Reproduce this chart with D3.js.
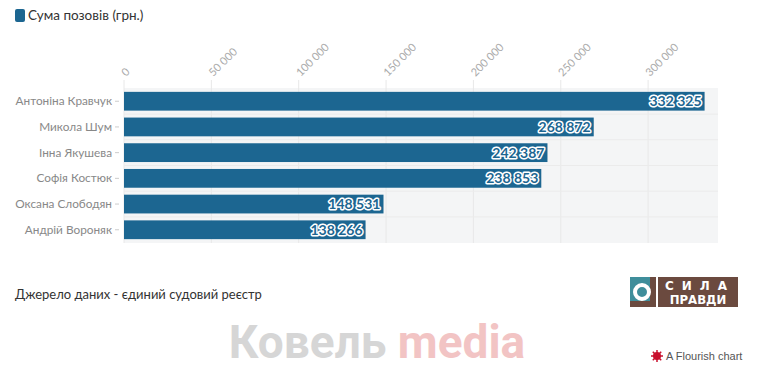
<!DOCTYPE html>
<html>
<head>
<meta charset="utf-8">
<script src="https://cdn.jsdelivr.net/npm/d3@7"></script>
<style>
  body { margin: 0; background: #fff; }
  svg { display: block; font-family: "Lato", "Open Sans", sans-serif; }
</style>
</head>
<body>
<svg id="chart" width="757" height="371"></svg>
<script>
// data
const names = ["Антоніна Кравчук", "Микола Шум", "Інна Якушева", "Софія Костюк", "Оксана Слободян", "Андрій Вороняк"];
const sums = [332325, 268872, 242387, 238853, 148531, 138266];
const tickValues = [0, 50000, 100000, 150000, 200000, 250000, 300000];
const seriesName = "Сума позовів (грн.)";

const svg = d3.select("#chart");
const barColor = "#1c6691";
const fmt = v => d3.format(",")(v).replace(/,/g, " ");

const x = d3.scaleLinear().domain([0, 340000]).range([124, 718]);
const y = d3.scaleBand().domain(names).range([88, 243]).paddingInner(0.27).paddingOuter(0.15);

// legend
svg.append("rect").attr("x", 15).attr("y", 9).attr("width", 10).attr("height", 13)
  .attr("rx", 2).attr("fill", barColor);
svg.append("text").attr("x", 28).attr("y", 20).attr("font-size", 13.5).attr("fill", "#333")
  .text(seriesName);

// plot background
svg.append("rect").attr("x", x(0)).attr("y", 88).attr("width", x.range()[1] - x(0)).attr("height", 155)
  .attr("fill", "#f4f5f6");

// vertical grid
svg.append("g").selectAll("line").data(tickValues).join("line")
  .attr("x1", d => x(d)).attr("x2", d => x(d))
  .attr("y1", 80).attr("y2", 243)
  .attr("stroke", "#e8e8e8").attr("stroke-width", 1);

// row separators
svg.append("g").selectAll("line").data(names.slice(1)).join("line")
  .attr("x1", x(0)).attr("x2", x.range()[1])
  .attr("y1", d => y(d) - y.step() * y.paddingInner() / 2)
  .attr("y2", d => y(d) - y.step() * y.paddingInner() / 2)
  .attr("stroke", "#ebebeb");

// x axis labels rotated
svg.append("g").selectAll("text").data(tickValues).join("text")
  .attr("transform", d => `translate(${x(d) + 2},${77}) rotate(-45)`)
  .attr("font-size", 11).attr("fill", "#aaa")
  .text(fmt);

// y labels
svg.append("g").selectAll("text").data(names).join("text")
  .attr("x", 112).attr("y", d => y(d) + y.bandwidth() / 2 + 4)
  .attr("text-anchor", "end").attr("font-size", 11.8).attr("fill", "#888")
  .text(d => d);
svg.append("g").selectAll("line").data(names).join("line")
  .attr("x1", 115).attr("x2", 119)
  .attr("y1", d => y(d) + y.bandwidth() / 2).attr("y2", d => y(d) + y.bandwidth() / 2)
  .attr("stroke", "#ccc");

// bars
svg.append("g").selectAll("rect").data(names).join("rect")
  .attr("x", x(0)).attr("y", d => y(d))
  .attr("width", (d, i) => x(sums[i]) - x(0)).attr("height", y.bandwidth())
  .attr("fill", barColor);

// value labels
svg.append("g").selectAll("text").data(names).join("text")
  .attr("x", (d, i) => x(sums[i]) - 3).attr("y", d => y(d) + y.bandwidth() / 2 + 5)
  .attr("text-anchor", "end").attr("font-size", 14).attr("font-weight", "bold")
  .attr("fill", barColor).attr("stroke", "#fff").attr("stroke-width", 3)
  .attr("paint-order", "stroke").attr("stroke-linejoin", "round")
  .text((d, i) => fmt(sums[i]));

// source note
svg.append("text").attr("x", 15).attr("y", 299).attr("font-size", 13).attr("fill", "#333")
  .text("Джерело даних - єдиний судовий реєстр");

// logo
const logo = svg.append("g").attr("transform", "translate(630,277)");
logo.append("rect").attr("width", 26).attr("height", 30).attr("fill", "#6b4a3f");
logo.append("rect").attr("width", 20).attr("height", 24).attr("fill", "#3f8e9b");
logo.append("circle").attr("cx", 12).attr("cy", 15).attr("r", 7).attr("fill", "none")
  .attr("stroke", "#fff").attr("stroke-width", 4);
logo.append("rect").attr("x", 28).attr("width", 80).attr("height", 30).attr("fill", "#6b4a3f");
logo.append("text").attr("x", 70).attr("y", 13).attr("text-anchor", "middle")
  .attr("font-family", "DejaVu Sans").attr("font-size", 12).attr("font-weight", "bold")
  .attr("letter-spacing", 8).attr("fill", "#fff").text("СИЛА");
logo.append("text").attr("x", 68).attr("y", 27).attr("text-anchor", "middle")
  .attr("font-family", "DejaVu Sans Condensed").attr("font-size", 13).attr("font-weight", "bold")
  .attr("fill", "#fff").text("ПРАВДИ");

// watermark
const wm = svg.append("text").attr("x", 377).attr("y", 358).attr("text-anchor", "middle")
  .attr("font-family", "Roboto").attr("font-weight", "bold").attr("font-size", 46);
wm.append("tspan").attr("fill", "#d6d6d6").text("Ковель ");
wm.append("tspan").attr("fill", "#f2c4c4").text("media");

// flourish credit
const fl = svg.append("g").attr("transform", "translate(657,356)");
fl.append("circle").attr("r", 4).attr("fill", "#c8102e");
fl.selectAll("line").data(d3.range(8)).join("line")
  .attr("x1", 0).attr("y1", 0)
  .attr("x2", d => 6 * Math.cos(d * Math.PI / 4)).attr("y2", d => 6 * Math.sin(d * Math.PI / 4))
  .attr("stroke", "#c8102e").attr("stroke-width", 1.5);
fl.append("text").attr("x", 9).attr("y", 4).attr("font-family", "Liberation Sans")
  .attr("font-size", 11).attr("fill", "#555").text("A Flourish chart");
</script>
</body>
</html>
